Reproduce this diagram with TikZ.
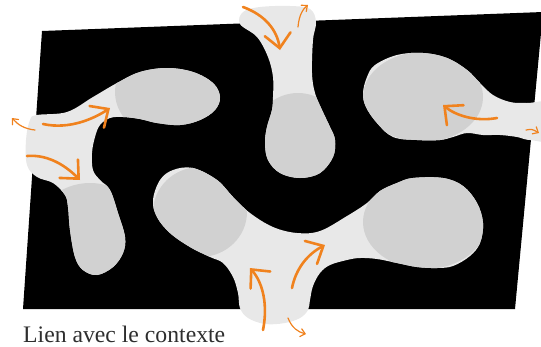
\documentclass[tikz,border=0pt]{standalone}
\usepackage{fontspec}
\setmainfont{Liberation Serif}
\usetikzlibrary{arrows.meta}
\definecolor{lg}{HTML}{E8E8E8}
\definecolor{mg}{HTML}{D1D1D1}
\definecolor{org}{HTML}{F0821E}
\definecolor{txt}{HTML}{2E2E2E}
\def\regA{plot[smooth cycle, tension=0.6] coordinates {(37,115) (67,112) (93,97) (117,83) (140,72) (167,68) (193,72) (213,83) (220,97) (215,110) (200,120) (180,125) (157,123) (140,119) (123,117) (110,118) (100,125) (95,137) (92,153) (93,170) (100,180) (110,190) (118,213) (125,237) (123,253) (113,267) (97,275) (83,270) (75,257) (70,230) (68,207) (65,195) (53,183) (37,177) (27,165) (26,140) (30,120)}}
\def\regB{plot[smooth cycle, tension=0.6] coordinates {(240,24) (243,12) (260,7) (290,6) (310,9) (316,22) (313,40) (312,73) (315,93) (322,110) (330,127) (335,140) (333,157) (320,173) (300,178) (280,173) (268,160) (265,143) (267,127) (272,110) (273,97) (273,77) (268,57) (257,37)}}
\def\regC{plot[smooth cycle, tension=0.6] coordinates {(153,200) (160,180) (173,170) (193,168) (217,180) (233,197) (250,213) (273,227) (297,233) (320,231) (347,216) (367,203) (380,191) (397,183) (413,178) (443,178) (463,186) (477,203) (483,223) (480,243) (470,256) (453,266) (437,268) (417,267) (397,263) (377,259) (360,258) (347,260) (330,265) (320,273) (313,286) (310,300) (308,310) (300,318) (285,323) (265,324) (248,318) (240,308) (238,293) (233,277) (223,263) (210,257) (190,247) (170,233) (157,217)}}
\def\regD{plot[smooth cycle, tension=0.6] coordinates {(363,93) (367,77) (375,65) (397,55) (423,53) (447,58) (467,70) (480,83) (493,95) (510,102) (527,103) (560,103) (560,140) (530,140) (517,137) (500,135) (483,135) (467,133) (453,137) (440,140) (417,140) (393,137) (377,123) (366,107)}}
\begin{document}
\begin{tikzpicture}[x=1pt,y=-1pt,
  bigarrow/.style={org, line width=2.6pt, line cap=round, line join=round,
    -{Straight Barb[length=14pt,width=26pt,line cap=round]}},
  smallarrow/.style={org, line width=1.2pt, line cap=round,
    -{Straight Barb[length=4.5pt,width=8pt,line cap=round]}},
  blob/.style={fill=mg}]
\useasboundingbox (0,0) rectangle (541,346);
\clip (0,0) rectangle (541,346);
% black ground
\fill[black] (42,31) -- (543,12) -- (515,309) -- (23,309) -- cycle;
% light network
\fill[lg] \regA;
\fill[lg] \regB;
\fill[lg] \regC;
\fill[lg] \regD;
% mid-grey blobs
\begin{scope}
\clip \regA;
\fill[blob] (178,92) ellipse [x radius=63pt, y radius=50pt];
\fill[blob] (90,233) ellipse [x radius=55pt, y radius=50pt];
\end{scope}
\begin{scope}
\clip \regB;
\fill[blob] (298,138) ellipse [x radius=45pt, y radius=45pt];
\end{scope}
\begin{scope}
\clip \regC;
\fill[blob] (200,212) ellipse [x radius=47pt, y radius=45pt];
\fill[blob] (425,222) ellipse [x radius=62pt, y radius=47pt];
\end{scope}
\begin{scope}
\clip \regD;
\fill[blob] (423,97) ellipse [x radius=60pt, y radius=45pt];
\end{scope}
% arrows
\draw[bigarrow] (43,124) .. controls (70,130) and (95,118) .. (110,108);
\draw[bigarrow] (27,156) .. controls (50,154) and (68,168) .. (80,180);
\draw[smallarrow] (35,130) .. controls (25,129) and (18,125) .. (12,118);
\draw[bigarrow] (243,7) .. controls (265,15) and (277,30) .. (280,50);
\draw[smallarrow] (298,27) .. controls (299,15) and (303,9) .. (308,5);
\draw[bigarrow] (263,330) .. controls (268,305) and (263,283) .. (250,268);
\draw[bigarrow] (292,288) .. controls (296,268) and (308,254) .. (325,245);
\draw[smallarrow] (288,318) .. controls (292,328) and (298,332) .. (306,334);
\draw[bigarrow] (497,118) .. controls (475,122) and (455,115) .. (443,105);
\draw[smallarrow] (526,130) .. controls (532,129) .. (539,133);
% caption
\node[anchor=base west, inner sep=0, text depth=0pt, text=txt, font=\fontsize{23.7}{28}\selectfont] (lbl) at (23,342) {Lien avec le contexte};
\end{tikzpicture}
\end{document}
